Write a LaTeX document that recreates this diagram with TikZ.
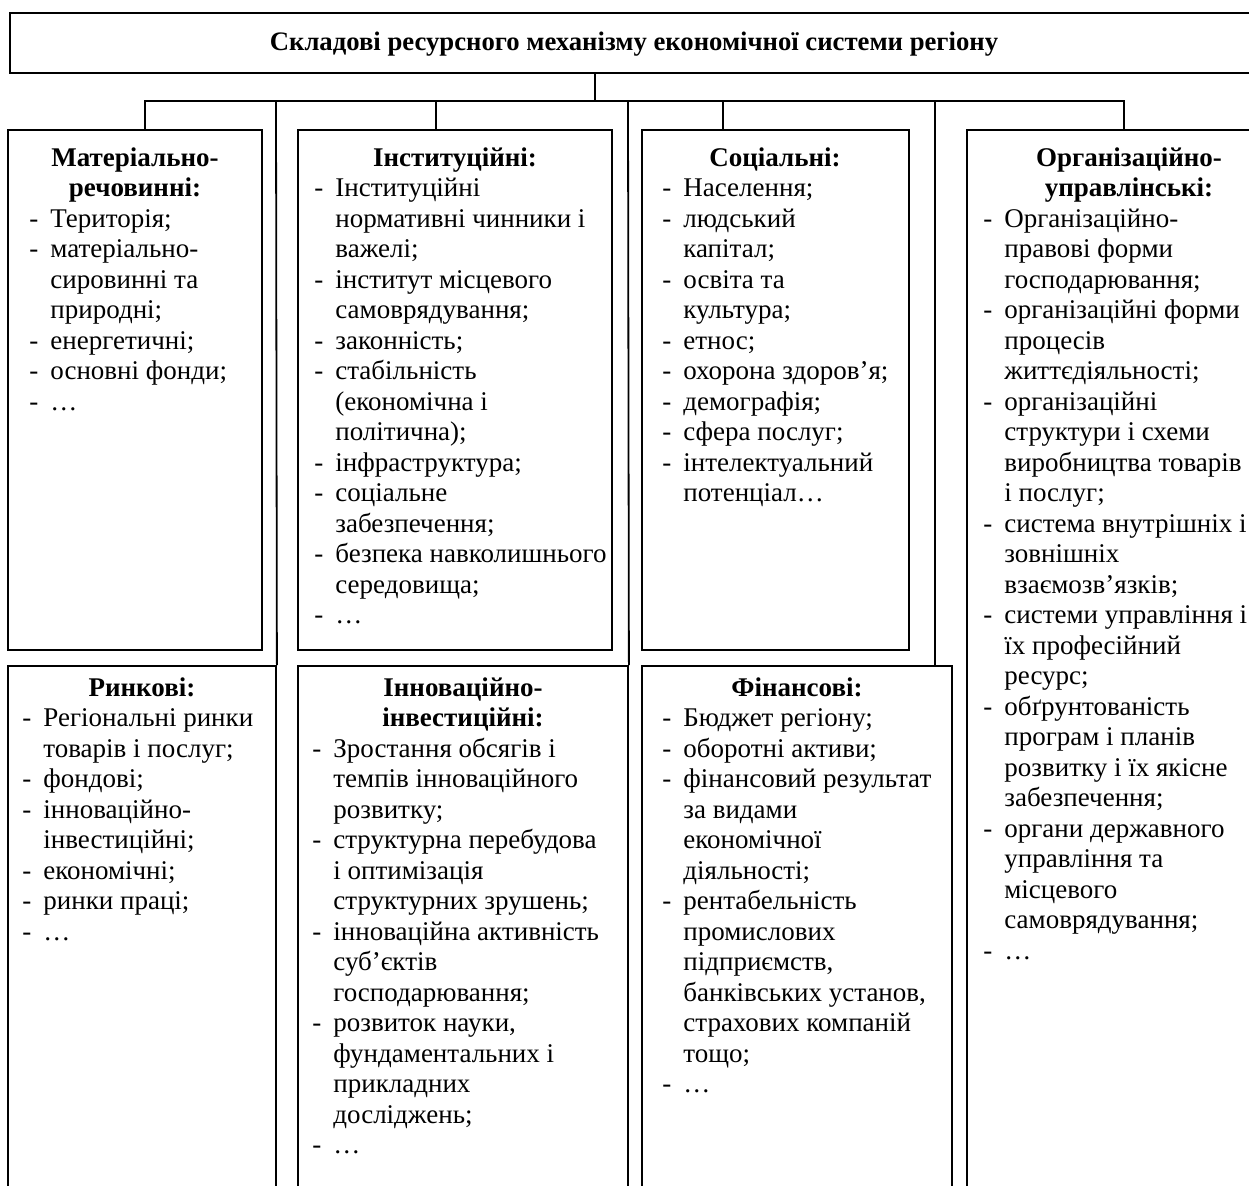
\documentclass[tikz,border=0pt]{standalone}
\usepackage{fontspec}
\setmainfont{Liberation Serif}
\usetikzlibrary{fit}

% two-column list: hyphen marker, then the item text (lines broken by hand)
\newcommand{\itemlist}[1]{\begin{tabular}[t]{@{}l@{\hspace{6pt}}l@{}}#1\end{tabular}}
\newcommand{\headlines}[1]{\begin{tabular}[t]{@{}c@{}}#1\end{tabular}}

\begin{document}
\begin{tikzpicture}[x=0.5pt,y=-0.5pt,
  frame/.style={draw, line width=0.9pt, inner sep=0pt},
  link/.style={line width=0.9pt},
  boxhead/.style={font=\fontsize{13.5}{15.25}\selectfont\bfseries, inner sep=0pt, anchor=base},
  boxlist/.style={font=\fontsize{13.5}{15.25}\selectfont, inner sep=0pt, anchor=base west}]

\useasboundingbox (0,0) rectangle (1249,1185);
\clip (0,0) rectangle (1249,1185);

% header
\node[frame, fit={(10,13) (1258,73)}] (top) {};
\node[boxhead, font=\fontsize{13.35}{15.25}\selectfont\bfseries] (toptext) at (634,50) {Складові ресурсного механізму економічної системи регіону};

% upper row of frames
\node[frame, fit={(8,130) (262,650)}] (mat) {};
\node[frame, fit={(298,130) (612,650)}] (ins) {};
\node[frame, fit={(642,130) (909,650)}] (soc) {};
\node[frame, fit={(967,130) (1291,1260)}] (org) {};

% lower row of frames
\node[frame, fit={(8,666) (276,1260)}] (rin) {};
\node[frame, fit={(298,666) (628,1260)}] (inn) {};
\node[frame, fit={(642,666) (952,1260)}] (fin) {};

% distribution bus
\coordinate (hub) at (595,101);
\coordinate (dA) at (145,101);
\coordinate (dB) at (276,101);
\coordinate (dC) at (436,101);
\coordinate (dD) at (628,101);
\coordinate (dE) at (723,101);
\coordinate (dF) at (935,101);
\coordinate (dG) at (1124,101);

\draw[link] (top.south -| hub) -- (hub);
\draw[link] (mat.north -| dA) -- (dA) -- (dG) -- (org.north -| dG);
\draw[link] (dB) -- (rin.north east);
\draw[link] (dC) -- (ins.north -| dC);
\draw[link] (dD) -- (inn.north east);
\draw[link] (dE) -- (soc.north -| dE);
\draw[link] (dF) -- (fin.north -| dF);

% Матеріально-речовинні
\node[boxhead] (matH) at (135,166) {\headlines{Матеріально-\\речовинні:}};
\node[boxlist] (matL) at (29,227) {\itemlist{
-&Територія;\\
-&матеріально-\\
 &сировинні та\\
 &природні;\\
-&енергетичні;\\
-&основні фонди;\\
-&…}};

% Інституційні
\node[boxhead] (insH) at (455,166) {Інституційні:};
\node[boxlist] (insL) at (314,196.5) {\itemlist{
-&Інституційні\\
 &нормативні чинники і\\
 &важелі;\\
-&інститут місцевого\\
 &самоврядування;\\
-&законність;\\
-&стабільність\\
 &(економічна і\\
 &політична);\\
-&інфраструктура;\\
-&соціальне\\
 &забезпечення;\\
-&безпека навколишнього\\
 &середовища;\\
-&…}};

% Соціальні
\node[boxhead] (socH) at (775,166) {Соціальні:};
\node[boxlist] (socL) at (662,196.5) {\itemlist{
-&Населення;\\
-&людський\\
 &капітал;\\
-&освіта та\\
 &культура;\\
-&етнос;\\
-&охорона здоров’я;\\
-&демографія;\\
-&сфера послуг;\\
-&інтелектуальний\\
 &потенціал…}};

% Організаційно-управлінські
\node[boxhead] (orgH) at (1129,166) {\headlines{Організаційно-\\управлінські:}};
\node[boxlist] (orgL) at (983,227) {\itemlist{
-&Організаційно-\\
 &правові форми\\
 &господарювання;\\
-&організаційні форми\\
 &процесів\\
 &життєдіяльності;\\
-&організаційні\\
 &структури і схеми\\
 &виробництва товарів\\
 &і послуг;\\
-&система внутрішніх і\\
 &зовнішніх\\
 &взаємозв’язків;\\
-&системи управління і\\
 &їх професійний\\
 &ресурс;\\
-&обґрунтованість\\
 &програм і планів\\
 &розвитку і їх якісне\\
 &забезпечення;\\
-&органи державного\\
 &управління та\\
 &місцевого\\
 &самоврядування;\\
-&…}};

% Ринкові
\node[boxhead] (rinH) at (142,696) {Ринкові:};
\node[boxlist] (rinL) at (22,726.5) {\itemlist{
-&Регіональні ринки\\
 &товарів і послуг;\\
-&фондові;\\
-&інноваційно-\\
 &інвестиційні;\\
-&економічні;\\
-&ринки праці;\\
-&…}};

% Інноваційно-інвестиційні
\node[boxhead] (innH) at (463,696) {\headlines{Інноваційно-\\інвестиційні:}};
\node[boxlist] (innL) at (312,757) {\itemlist{
-&Зростання обсягів і\\
 &темпів інноваційного\\
 &розвитку;\\
-&структурна перебудова\\
 &і оптимізація\\
 &структурних зрушень;\\
-&інноваційна активність\\
 &суб’єктів\\
 &господарювання;\\
-&розвиток науки,\\
 &фундаментальних і\\
 &прикладних\\
 &досліджень;\\
-&…}};

% Фінансові
\node[boxhead] (finH) at (797,696) {Фінансові:};
\node[boxlist] (finL) at (662,726.5) {\itemlist{
-&Бюджет регіону;\\
-&оборотні активи;\\
-&фінансовий результат\\
 &за видами\\
 &економічної\\
 &діяльності;\\
-&рентабельність\\
 &промислових\\
 &підприємств,\\
 &банківських установ,\\
 &страхових компаній\\
 &тощо;\\
-&…}};

\end{tikzpicture}
\end{document}
